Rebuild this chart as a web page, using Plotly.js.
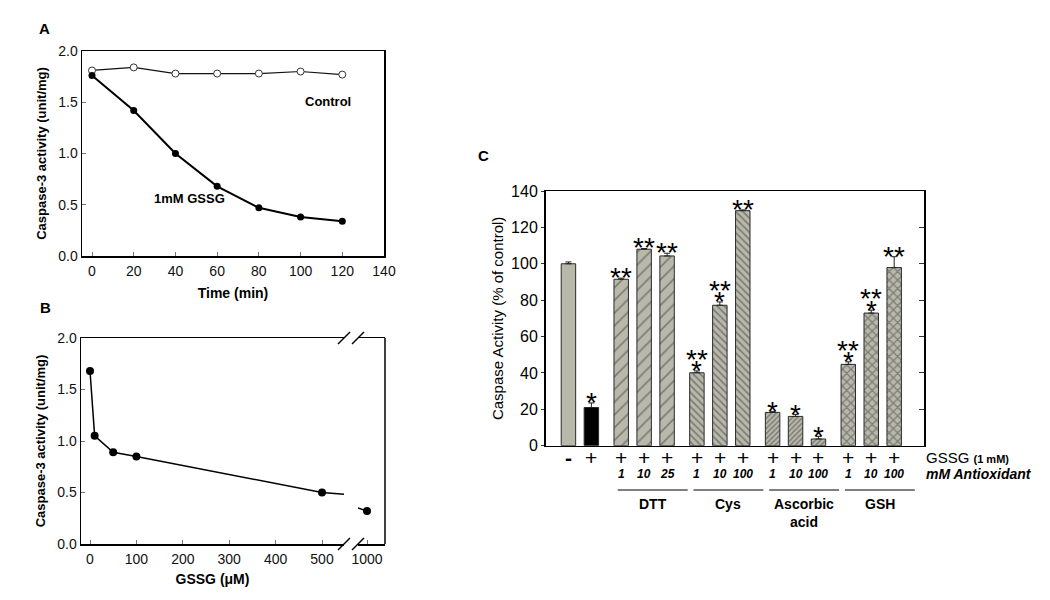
<!DOCTYPE html>
<html>
<head>
<meta charset="utf-8">
<script src="https://cdn.plot.ly/plotly-3.0.1.min.js"></script>
<style>html,body{margin:0;padding:0;background:#fff;}#chart{width:1050px;height:600px;}</style>
</head>
<body>
<div id="chart"></div>
<script>
// ---------------- Panel A data ----------------
const timeMin = [0, 20, 40, 60, 80, 100, 120];
const controlActivity = [1.81, 1.84, 1.78, 1.78, 1.78, 1.80, 1.77];
const gssgActivity = [1.76, 1.42, 1.00, 0.68, 0.47, 0.38, 0.34];

// ---------------- Panel B data ----------------
const gssgConc = [0, 10, 50, 100, 500, 1000];
const concActivity = [1.68, 1.05, 0.89, 0.85, 0.50, 0.32];

// ---------------- Panel C data ----------------
const gssgRow = ['<b>-</b>', '+', '+', '+', '+', '+', '+', '+', '+', '+', '+', '+', '+', '+'];
const doseRow = ['', '', '1', '10', '25', '1', '10', '100', '1', '10', '100', '1', '10', '100'];
const groupIdx = [0, 0, 1, 1, 1, 2, 2, 2, 3, 3, 3, 4, 4, 4];
const antioxidantNames = ['DTT', 'Cys', 'Ascorbic<br>acid', 'GSH'];
const caspasePct = [100, 21, 91.5, 108, 104.3, 40.1, 77.2, 129.2, 18.3, 16.1, 3.7, 44.7, 72.9, 97.9];
const caspaseErr = [1, 2.5, 0.6, 0.4, 1.5, 1, 1.8, 0.4, 0.4, 1.1, 1.4, 1.4, 1.6, 6];
const starVsControl = ['', '*', '', '', '', '*', '*', '', '*', '*', '*', '*', '*', ''];
const starVsGSSG = ['', '', '**', '**', '**', '**', '**', '**', '', '', '', '**', '**', '**'];

// ---------------- helpers ----------------
const FONT = 'Liberation Sans, Arial, sans-serif';
const W = 1050, H = 600;
const px = x => x / W;
const py = y => 1 - y / H;

// bar positions: extra gap between antioxidant groups
const barPos = caspasePct.map((_, i) => i + 0.3 * groupIdx[i]);

// bar styles per group (0 = none, 1 DTT, 2 Cys, 3 Ascorbic, 4 GSH)
const GRAY = '#b9b9ab';
const groupStyle = {
  0: {shape: '', size: 8, solidity: 0.2},
  1: {shape: '/', size: 9, solidity: 0.2},
  2: {shape: '\\', size: 5, solidity: 0.35},
  3: {shape: '/', size: 3.6, solidity: 0.45},
  4: {shape: 'x', size: 6, solidity: 0.4}
};
const barBg = caspasePct.map((_, i) => (i === 1 ? '#000000' : GRAY));
const barShape = groupIdx.map(g => groupStyle[g].shape);
const barPSize = groupIdx.map(g => groupStyle[g].size);
const barSolid = groupIdx.map(g => groupStyle[g].solidity);

const axisBase = {
  showgrid: false, zeroline: false, showline: true, linecolor: '#000', linewidth: 1.5,
  tickfont: {family: FONT, size: 14, color: '#111'}
};

const traces = [
  // Panel A
  {x: timeMin, y: controlActivity, xaxis: 'x', yaxis: 'y', type: 'scatter', mode: 'lines+markers',
   line: {color: '#111', width: 1.2},
   marker: {symbol: 'circle', size: 7, color: '#fff', line: {color: '#333', width: 1}}, showlegend: false},
  {x: timeMin, y: gssgActivity, xaxis: 'x', yaxis: 'y', type: 'scatter', mode: 'lines+markers',
   line: {color: '#000', width: 2},
   marker: {symbol: 'circle', size: 7, color: '#000'}, showlegend: false},
  // Panel B (broken x axis: two segments)
  {x: gssgConc, y: concActivity, xaxis: 'x2', yaxis: 'y2', type: 'scatter', mode: 'lines+markers',
   line: {color: '#000', width: 1.5}, marker: {size: 8, color: '#000'}, showlegend: false},
  {x: gssgConc, y: concActivity, xaxis: 'x3', yaxis: 'y2', type: 'scatter', mode: 'lines+markers',
   line: {color: '#000', width: 1.5}, marker: {size: 8, color: '#000'}, showlegend: false},
  // Panel C
  {x: barPos, y: caspasePct, xaxis: 'x4', yaxis: 'y3', type: 'bar', width: 0.63, showlegend: false,
   marker: {color: barBg, line: {color: '#2a2a2a', width: 1},
            pattern: {shape: barShape, size: barPSize, solidity: barSolid, fgcolor: '#111111',
                      fillmode: 'overlay'}},
   error_y: {type: 'data', symmetric: false, array: caspaseErr,
             arrayminus: caspaseErr.map(() => 0), color: '#222', thickness: 1, width: 3}}
];

// ---------------- annotations ----------------
const ann = [];
const label = (text, x, y, size, extra) => ann.push(Object.assign({
  text: text, x: px(x), y: py(y), xref: 'paper', yref: 'paper', showarrow: false,
  font: {family: FONT, size: size, color: '#000', weight: 'bold'}
}, extra || {}));
label('A', 37, 18, 15);
label('B', 38, 307, 15);
label('C', 483, 145, 15);
label('Control', 303, 92, 13);
label('1mM GSSG', 152, 189, 13);

// stars
caspasePct.forEach((v, i) => {
  const top = v + caspaseErr[i];
  if (starVsControl[i]) {
    ann.push({text: starVsControl[i], x: barPos[i], y: top, xref: 'x4', yref: 'y3', showarrow: false,
      yanchor: 'middle', yshift: 0, font: {family: FONT, size: 28, color: '#000'}});
  }
  if (starVsGSSG[i]) {
    ann.push({text: starVsGSSG[i], x: barPos[i], y: top, xref: 'x4', yref: 'y3', showarrow: false,
      yanchor: 'middle', yshift: starVsControl[i] ? 11.5 : 0.5, font: {family: FONT, size: 28, color: '#000'}});
  }
});
// GSSG row (+ / -) and dose row
gssgRow.forEach((s, i) => {
  ann.push({text: s, x: barPos[i], y: py(457), xref: 'x4', yref: 'paper',
    showarrow: false, yanchor: 'middle', font: {family: FONT, size: 21, color: '#000'}});
});
doseRow.forEach((d, i) => {
  if (!d) return;
  ann.push({text: '<b><i>' + d + '</i></b>', x: barPos[i], y: py(474), xref: 'x4', yref: 'paper',
    showarrow: false, yanchor: 'middle', font: {family: FONT, size: 12, color: '#000'}});
});
// group lines and names
const shapes = [];
antioxidantNames.forEach((name, g) => {
  const idx = groupIdx.map((gi, i) => gi === g + 1 ? i : -1).filter(i => i >= 0);
  const x0 = barPos[idx[0]] - 0.15, x1 = barPos[idx[idx.length - 1]] + 0.9;
  shapes.push({type: 'line', xref: 'x4', yref: 'paper', x0: x0, x1: x1, y0: py(490), y1: py(490),
    line: {color: '#000', width: 1}});
  ann.push({text: name, x: (x0 + x1) / 2, y: py(494), xref: 'x4', yref: 'paper', showarrow: false,
    yanchor: 'top', font: {family: FONT, size: 14, color: '#000', weight: 'bold'}});
});
ann.push({text: 'GSSG <b><span style="font-size:11px">(1 mM)</span></b>', x: px(924), y: py(457),
  xref: 'paper', yref: 'paper', xanchor: 'left', yanchor: 'middle', showarrow: false,
  font: {family: FONT, size: 15, color: '#000'}});
ann.push({text: '<b><i>mM Antioxidant</i></b>', x: px(924), y: py(474),
  xref: 'paper', yref: 'paper', xanchor: 'left', yanchor: 'middle', showarrow: false,
  font: {family: FONT, size: 14, color: '#000'}});

// panel B: right border and axis-break marks
const bTop = 338, bBot = 544, bRight = 385;
shapes.push({type: 'line', xref: 'paper', yref: 'paper', x0: px(bRight), x1: px(bRight),
  y0: py(bBot), y1: py(bTop), line: {color: '#000', width: 1.5}});
[344, 358].forEach(cx => [bTop, bBot].forEach(cy => {
  shapes.push({type: 'line', xref: 'paper', yref: 'paper', x0: px(cx - 6), y0: py(cy + 6),
    x1: px(cx + 6), y1: py(cy - 6), line: {color: '#000', width: 1.5}});
}));

const tickIn = {ticks: 'inside', ticklen: 4, tickwidth: 1, tickcolor: '#777'};

const layout = {
  width: W, height: H, margin: {l: 0, r: 0, t: 0, b: 0}, paper_bgcolor: '#fff', plot_bgcolor: '#fff',
  showlegend: false, font: {family: FONT, color: '#000'},
  // Panel A
  xaxis: Object.assign({}, axisBase, tickIn, {domain: [px(82), px(384)], range: [-4.8, 140], anchor: 'y',
    tickvals: [0, 20, 40, 60, 80, 100, 120, 140], mirror: true, ticklabelstandoff: 2,
    title: {text: 'Time (min)', font: {family: FONT, size: 14, weight: 'bold'}, standoff: 10}}),
  yaxis: Object.assign({}, axisBase, tickIn, {domain: [py(256), py(51)], range: [0, 2], anchor: 'x',
    dtick: 0.5, tickformat: '.1f', mirror: true,
    title: {text: 'Caspase-3 activity (unit/mg)', font: {family: FONT, size: 13, weight: 'bold'}, standoff: 8}}),
  // Panel B
  xaxis2: Object.assign({}, axisBase, tickIn, {domain: [px(81), px(344)], range: [-19.4, 547.4], anchor: 'y2',
    tickvals: [0, 100, 200, 300, 400, 500], mirror: true, ticklabelstandoff: 2,
    title: {text: 'GSSG (\u03bcM)', font: {family: FONT, size: 14, weight: 'bold'}, standoff: 8}}),
  xaxis3: Object.assign({}, axisBase, tickIn, {domain: [px(358), px(385)], range: [920, 1160], anchor: 'y2',
    tickvals: [1000], mirror: true, ticklabelstandoff: 2}),
  yaxis2: Object.assign({}, axisBase, tickIn, {domain: [py(544), py(338)], range: [0, 2], anchor: 'x2',
    dtick: 0.5, tickformat: '.1f',
    title: {text: 'Caspase-3 activity (unit/mg)', font: {family: FONT, size: 13, weight: 'bold'}, standoff: 8}}),
  // Panel C
  xaxis4: Object.assign({}, axisBase, {domain: [px(545.5), px(924)], range: [-1, 15.5], anchor: 'y3',
    tickvals: barPos, ticks: '', mirror: true, showticklabels: false}),
  yaxis3: Object.assign({}, axisBase, {domain: [py(445.7), py(191)], range: [0, 140], anchor: 'x4',
    dtick: 20, ticks: 'outside', ticklen: 3, tickcolor: '#333', mirror: true,
    tickfont: {family: FONT, size: 16, color: '#000'},
    title: {text: 'Caspase Activity (% of control)', font: {family: FONT, size: 15}, standoff: 4}}),
  yaxis4: {domain: [py(445.7), py(191)], range: [0, 140], anchor: 'x4', overlaying: 'y3', side: 'right',
    dtick: 20, ticks: 'inside', ticklen: 5, tickcolor: '#333', showticklabels: false, showgrid: false,
    zeroline: false, showline: false},
  annotations: ann,
  shapes: shapes
};

// invisible trace to activate the right-side tick axis of panel C
traces.push({x: [0], y: [0], xaxis: 'x4', yaxis: 'y4', type: 'scatter', mode: 'markers',
  marker: {opacity: 0}, hoverinfo: 'skip', showlegend: false});

Plotly.newPlot('chart', traces, layout, {staticPlot: true, displayModeBar: false});
</script>
</body>
</html>
